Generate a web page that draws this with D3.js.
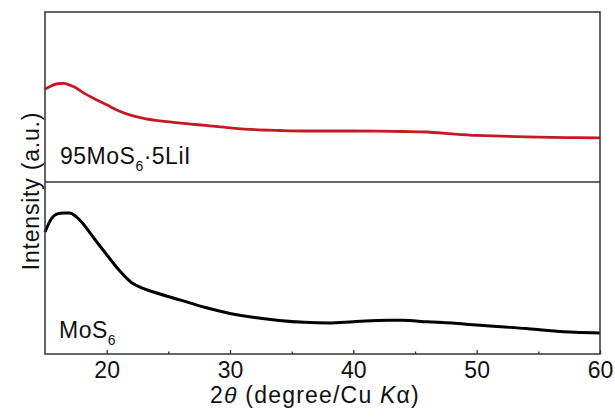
<!DOCTYPE html>
<html>
<head>
<meta charset="utf-8">
<script src="https://cdn.jsdelivr.net/npm/d3@7"></script>
<style>
  body { margin: 0; background: #fff; }
  svg { font-family: Arial, "Liberation Sans", sans-serif; }
</style>
</head>
<body>
<svg width="615" height="419"></svg>
<script>
// 2theta positions (deg)
const TWO_THETA = [15, 15.5, 16, 16.5, 17, 17.5, 18, 19, 20, 21, 22, 23, 24, 26, 28, 30,
  32, 34, 36, 38, 40, 42, 44, 46, 48, 50, 52, 54, 56, 58, 60];
// 95MoS6·5LiI (a.u.)
const LII_VALUES = [54.7, 56.5, 57.8, 58, 57, 55.5, 53, 49, 45.4, 41.8, 39.2, 37.4, 36.2, 34.6, 33.3, 31.9,
  30.8, 30.3, 30, 30, 30, 29.9, 29.7, 29.4, 28.3, 27.4, 27, 26.6, 26.3, 26.1, 25.9];
// MoS6 (a.u.)
const MOS6_VALUES = [70.9, 78.5, 81.5, 82, 82, 80, 76.5, 67, 57.8, 48.8, 41.6, 38, 35.6, 31.3, 27, 23.6,
  21.2, 19.5, 18.4, 18, 18.8, 19.5, 19.6, 18.7, 18, 16.8, 15.8, 14.8, 13.5, 12.6, 12.2];
const MAJOR_TICKS = [20, 30, 40, 50, 60];
const MINOR_TICKS = [25, 35, 45, 55];

const m = { left: 45, right: 600, top: 12, mid: 182, bottom: 354 };

const svg = d3.select("svg");

const x = d3.scaleLinear().domain([15, 60]).range([m.left, m.right]);
const yTop = d3.scaleLinear().domain([0, 100]).range([m.mid, m.top]);
const yBot = d3.scaleLinear().domain([0, 100]).range([m.bottom, m.mid]);

const lineTop = d3.line()
  .x((d, i) => x(TWO_THETA[i]))
  .y(d => yTop(d))
  .curve(d3.curveMonotoneX);

const lineBot = d3.line()
  .x((d, i) => x(TWO_THETA[i]))
  .y(d => yBot(d))
  .curve(d3.curveMonotoneX);

// curves
svg.append("path")
  .datum(LII_VALUES)
  .attr("d", lineTop)
  .attr("fill", "none")
  .attr("stroke", "#c41a24")
  .attr("stroke-width", 2.8)
  .attr("stroke-linejoin", "round");

svg.append("path")
  .datum(MOS6_VALUES)
  .attr("d", lineBot)
  .attr("fill", "none")
  .attr("stroke", "#000")
  .attr("stroke-width", 3)
  .attr("stroke-linejoin", "round");

// frame
svg.append("rect")
  .attr("x", m.left).attr("y", m.top)
  .attr("width", m.right - m.left).attr("height", m.bottom - m.top)
  .attr("fill", "none").attr("stroke", "#333").attr("stroke-width", 1.5);

svg.append("line")
  .attr("x1", m.left).attr("x2", m.right)
  .attr("y1", m.mid).attr("y2", m.mid)
  .attr("stroke", "#333").attr("stroke-width", 1.5);

// x axis
const xAxis = svg.append("g")
  .attr("transform", `translate(0,${m.bottom})`)
  .call(d3.axisBottom(x).tickValues(MAJOR_TICKS).tickSizeInner(-4).tickSizeOuter(0).tickPadding(8));
xAxis.select(".domain").remove();
xAxis.selectAll("line").attr("stroke", "#333").attr("stroke-width", 1.3);
xAxis.selectAll("text")
  .attr("fill", "#111")
  .style("font-family", "Arial, 'Liberation Sans', sans-serif")
  .style("font-size", "23px");

const xMinor = svg.append("g")
  .attr("transform", `translate(0,${m.bottom})`)
  .call(d3.axisBottom(x).tickValues(MINOR_TICKS).tickSize(-2.5).tickFormat(""));
xMinor.select(".domain").remove();
xMinor.selectAll("line").attr("stroke", "#333").attr("stroke-width", 1.3);

// axis titles
const xTitle = svg.append("text")
  .attr("x", 315).attr("y", 403)
  .attr("text-anchor", "middle")
  .attr("fill", "#111")
  .style("font-size", "23px")
  .style("letter-spacing", "1.2px");
xTitle.append("tspan").text("2");
xTitle.append("tspan").style("font-style", "italic").text("\u03b8");
xTitle.append("tspan").text(" (degree/Cu ");
xTitle.append("tspan").style("font-style", "italic").text("K");
xTitle.append("tspan").text("\u03b1)");

svg.append("text")
  .attr("transform", "translate(39,191) rotate(-90)")
  .attr("text-anchor", "middle")
  .attr("fill", "#111")
  .style("font-size", "23px")
  .style("letter-spacing", "0.8px")
  .text("Intensity (a.u.)");

// sample labels
const lab1 = svg.append("text")
  .attr("x", 60).attr("y", 164)
  .attr("fill", "#111")
  .style("font-size", "23px")
  .style("letter-spacing", "0.5px");
lab1.append("tspan").text("95MoS");
lab1.append("tspan").attr("dy", 7).style("font-size", "14px").text("6");
lab1.append("tspan").attr("dy", -7).text("\u00b75LiI");

const lab2 = svg.append("text")
  .attr("x", 59).attr("y", 338)
  .attr("fill", "#111")
  .style("font-size", "23px")
  .style("letter-spacing", "0.5px");
lab2.append("tspan").text("MoS");
lab2.append("tspan").attr("dy", 7).style("font-size", "14px").text("6");
</script>
</body>
</html>
